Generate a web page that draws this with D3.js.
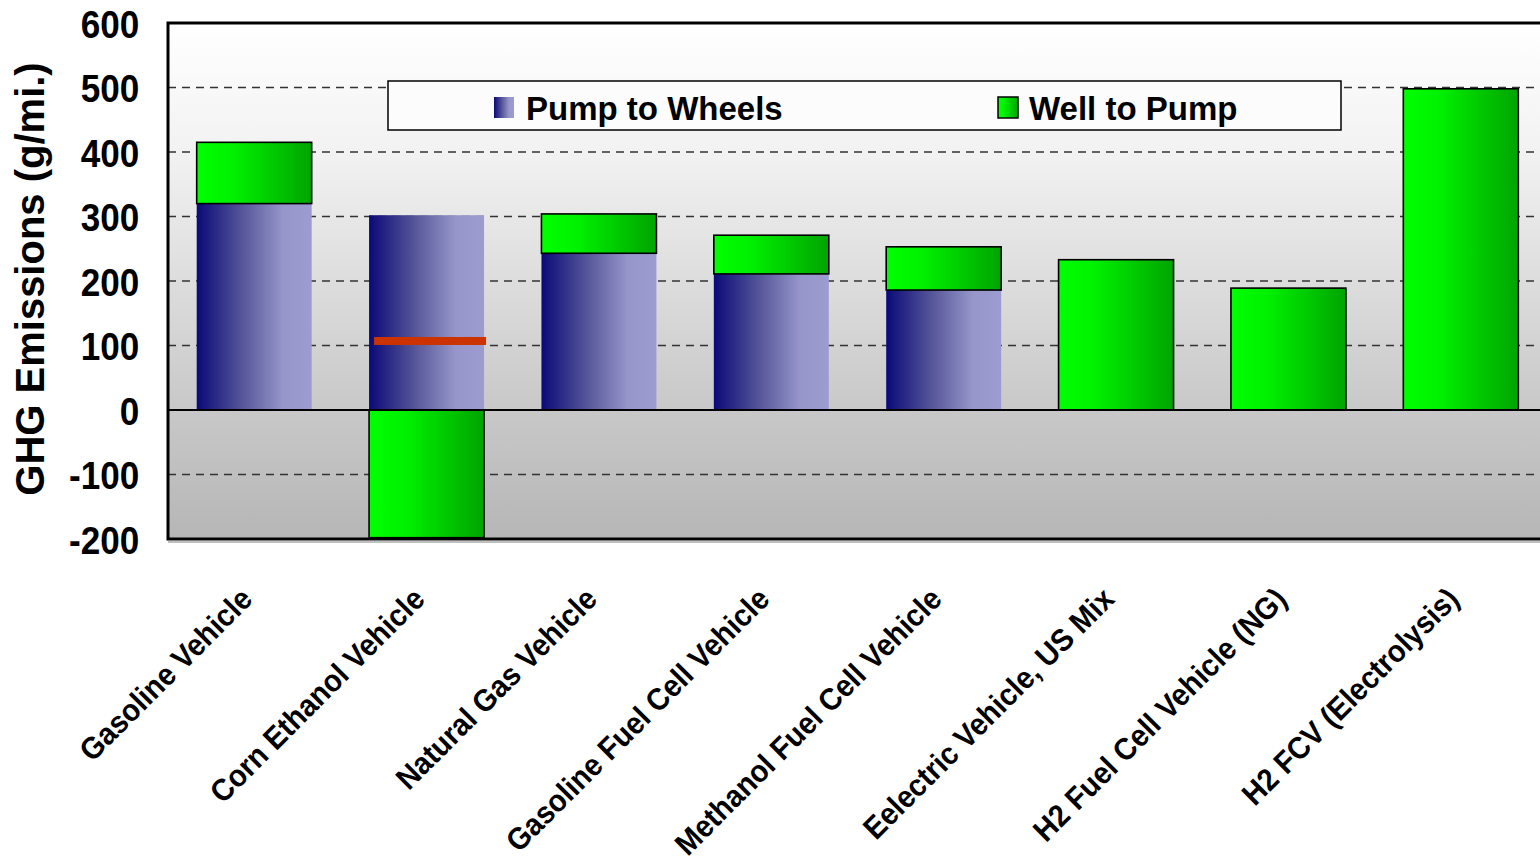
<!DOCTYPE html>
<html>
<head>
<meta charset="utf-8">
<script src="https://cdn.jsdelivr.net/npm/d3@7"></script>
<style>
  html, body { margin: 0; padding: 0; background: #fff; }
  svg { display: block; font-family: "Liberation Sans", Arial, sans-serif; }
</style>
</head>
<body>
<svg id="chart" width="1540" height="864"></svg>
<script>
// Vehicle pathways and their greenhouse-gas emissions (g/mi.)
const categories = [
  "Gasoline Vehicle",
  "Corn Ethanol Vehicle",
  "Natural Gas Vehicle",
  "Gasoline Fuel Cell Vehicle",
  "Methanol Fuel Cell Vehicle",
  "Eelectric Vehicle, US Mix",
  "H2 Fuel Cell Vehicle (NG)",
  "H2 FCV (Electrolysis)"
];
const pumpToWheels = [320, 302, 243, 211, 186, 0, 0, 0];
const wellToPump   = [95, -198, 61, 60, 67, 233, 189, 498];
// net total marker (only the ethanol pathway carries one)
const netMarker    = [null, 107, null, null, null, null, null, null];
const yTicks = [600, 500, 400, 300, 200, 100, 0, -100, -200];
const seriesNames = ["Pump to Wheels", "Well to Pump"];

const svg = d3.select("#chart");
const plot = { left: 168, top: 23, right: 1547, bottom: 539 };

const x = d3.scaleBand()
  .domain(categories)
  .range([plot.left, plot.right])
  .paddingInner(0.333)
  .paddingOuter(0.1665);

const y = d3.scaleLinear()
  .domain([-200, 600])
  .range([plot.bottom, plot.top]);

const defs = svg.append("defs");

const bg = defs.append("linearGradient")
  .attr("id", "bgGrad")
  .attr("gradientUnits", "userSpaceOnUse")
  .attr("x1", 0).attr("y1", plot.top).attr("x2", 0).attr("y2", plot.bottom);
bg.append("stop").attr("offset", "0%").attr("stop-color", "#ffffff");
bg.append("stop").attr("offset", "25%").attr("stop-color", "#f2f2f2");
bg.append("stop").attr("offset", "75%").attr("stop-color", "#c8c8c8");
bg.append("stop").attr("offset", "100%").attr("stop-color", "#b6b6b6");

const blue = defs.append("linearGradient").attr("id", "blueGrad")
  .attr("x1", "0%").attr("x2", "100%").attr("y1", "0%").attr("y2", "0%");
blue.append("stop").attr("offset", "0%").attr("stop-color", "#0a0a78");
blue.append("stop").attr("offset", "40%").attr("stop-color", "#56569a");
blue.append("stop").attr("offset", "75%").attr("stop-color", "#9696ca");
blue.append("stop").attr("offset", "100%").attr("stop-color", "#9c9cd0");

const green = defs.append("linearGradient").attr("id", "greenGrad")
  .attr("x1", "0%").attr("x2", "100%").attr("y1", "0%").attr("y2", "0%");
green.append("stop").attr("offset", "0%").attr("stop-color", "#00ff00");
green.append("stop").attr("offset", "30%").attr("stop-color", "#00f200");
green.append("stop").attr("offset", "100%").attr("stop-color", "#00a400");

// plot background
svg.append("rect")
  .attr("x", plot.left).attr("y", plot.top)
  .attr("width", plot.right - plot.left).attr("height", plot.bottom - plot.top)
  .attr("fill", "url(#bgGrad)");

// dashed gridlines
svg.append("g")
  .selectAll("line")
  .data(yTicks.filter(t => t !== 0 && t !== 600 && t !== -200))
  .join("line")
  .attr("x1", plot.left).attr("x2", plot.right)
  .attr("y1", d => y(d)).attr("y2", d => y(d))
  .attr("stroke", "#333")
  .attr("stroke-width", 1.3)
  .attr("stroke-dasharray", "8,6");

// stacked bars: pump-to-wheels from zero, well-to-pump on top (or below zero)
const rows = categories.map((c, i) => ({
  cat: c, ptw: pumpToWheels[i], wtp: wellToPump[i], net: netMarker[i]
}));

const bars = svg.append("g");
bars.selectAll("rect.ptw")
  .data(rows.filter(d => d.ptw > 0))
  .join("rect")
  .attr("class", "ptw")
  .attr("x", d => x(d.cat))
  .attr("width", x.bandwidth())
  .attr("y", d => y(d.ptw))
  .attr("height", d => y(0) - y(d.ptw))
  .attr("fill", "url(#blueGrad)");

bars.selectAll("rect.wtp")
  .data(rows)
  .join("rect")
  .attr("class", "wtp")
  .attr("x", d => x(d.cat))
  .attr("width", x.bandwidth())
  .attr("y", d => d.wtp >= 0 ? y(d.ptw + d.wtp) : y(0))
  .attr("height", d => Math.abs(y(d.wtp) - y(0)))
  .attr("fill", "url(#greenGrad)")
  .attr("stroke", "#000")
  .attr("stroke-width", 1.6);

// net emissions marker
bars.selectAll("rect.net")
  .data(rows.filter(d => d.net !== null))
  .join("rect")
  .attr("class", "net")
  .attr("x", d => x(d.cat) + 5)
  .attr("width", x.bandwidth() - 3)
  .attr("y", d => y(d.net) - 4)
  .attr("height", 8)
  .attr("fill", "#cc3300");

// zero line
svg.append("line")
  .attr("x1", plot.left).attr("x2", plot.right)
  .attr("y1", y(0)).attr("y2", y(0))
  .attr("stroke", "#000").attr("stroke-width", 2);

// frame with a faint shadow along the bottom
svg.append("line")
  .attr("x1", plot.left).attr("x2", plot.right)
  .attr("y1", plot.bottom + 3).attr("y2", plot.bottom + 3)
  .attr("stroke", "#aaa").attr("stroke-width", 1.5);
svg.append("rect")
  .attr("x", plot.left).attr("y", plot.top)
  .attr("width", plot.right - plot.left).attr("height", plot.bottom - plot.top)
  .attr("fill", "none").attr("stroke", "#000").attr("stroke-width", 3);

// y axis labels (slightly narrowed bold digits)
const yAxis = d3.axisLeft(y).tickValues(yTicks).tickSize(0).tickPadding(32)
  .tickFormat(d => String(d));
const yg = svg.append("g").attr("transform", `translate(${plot.left},0)`).call(yAxis);
yg.select(".domain").remove();
yg.selectAll("text")
  .attr("font-family", "Liberation Sans, Arial, sans-serif")
  .attr("font-size", 39)
  .attr("font-weight", "bold")
  .attr("fill", "#000")
  .attr("dy", "0.36em")
  .attr("transform", "scale(0.9,1)");

// y axis title
svg.append("text")
  .attr("transform", "translate(44,279) rotate(-90)")
  .attr("text-anchor", "middle")
  .attr("font-size", 40)
  .attr("font-weight", "bold")
  .attr("fill", "#000")
  .text("GHG Emissions (g/mi.)");

// x category labels, slanted and slightly narrowed
svg.append("g")
  .selectAll("text")
  .data(categories)
  .join("text")
  .attr("transform", d => `translate(${x(d) + x.bandwidth() / 2},601) rotate(-45) scale(0.93,1)`)
  .attr("text-anchor", "end")
  .attr("font-size", 31)
  .attr("font-weight", "bold")
  .attr("fill", "#000")
  .text(d => d);

// legend
const legend = svg.append("g");
legend.append("rect")
  .attr("x", 388).attr("y", 81).attr("width", 953).attr("height", 49)
  .attr("fill", "#fcfcfc").attr("stroke", "#000").attr("stroke-width", 1.5);
const legendItems = [
  { name: seriesNames[0], fill: "url(#blueGrad)", stroke: "none", sx: 494, tx: 526 },
  { name: seriesNames[1], fill: "url(#greenGrad)", stroke: "#000", sx: 998, tx: 1029 }
];
legend.selectAll("rect.sw")
  .data(legendItems)
  .join("rect")
  .attr("class", "sw")
  .attr("x", d => d.sx).attr("y", 97).attr("width", 20).attr("height", 21)
  .attr("fill", d => d.fill).attr("stroke", d => d.stroke).attr("stroke-width", 1.5);
legend.selectAll("text")
  .data(legendItems)
  .join("text")
  .attr("x", d => d.tx).attr("y", 120)
  .attr("font-size", 33)
  .attr("font-weight", "bold")
  .attr("fill", "#000")
  .text(d => d.name);
</script>
</body>
</html>
